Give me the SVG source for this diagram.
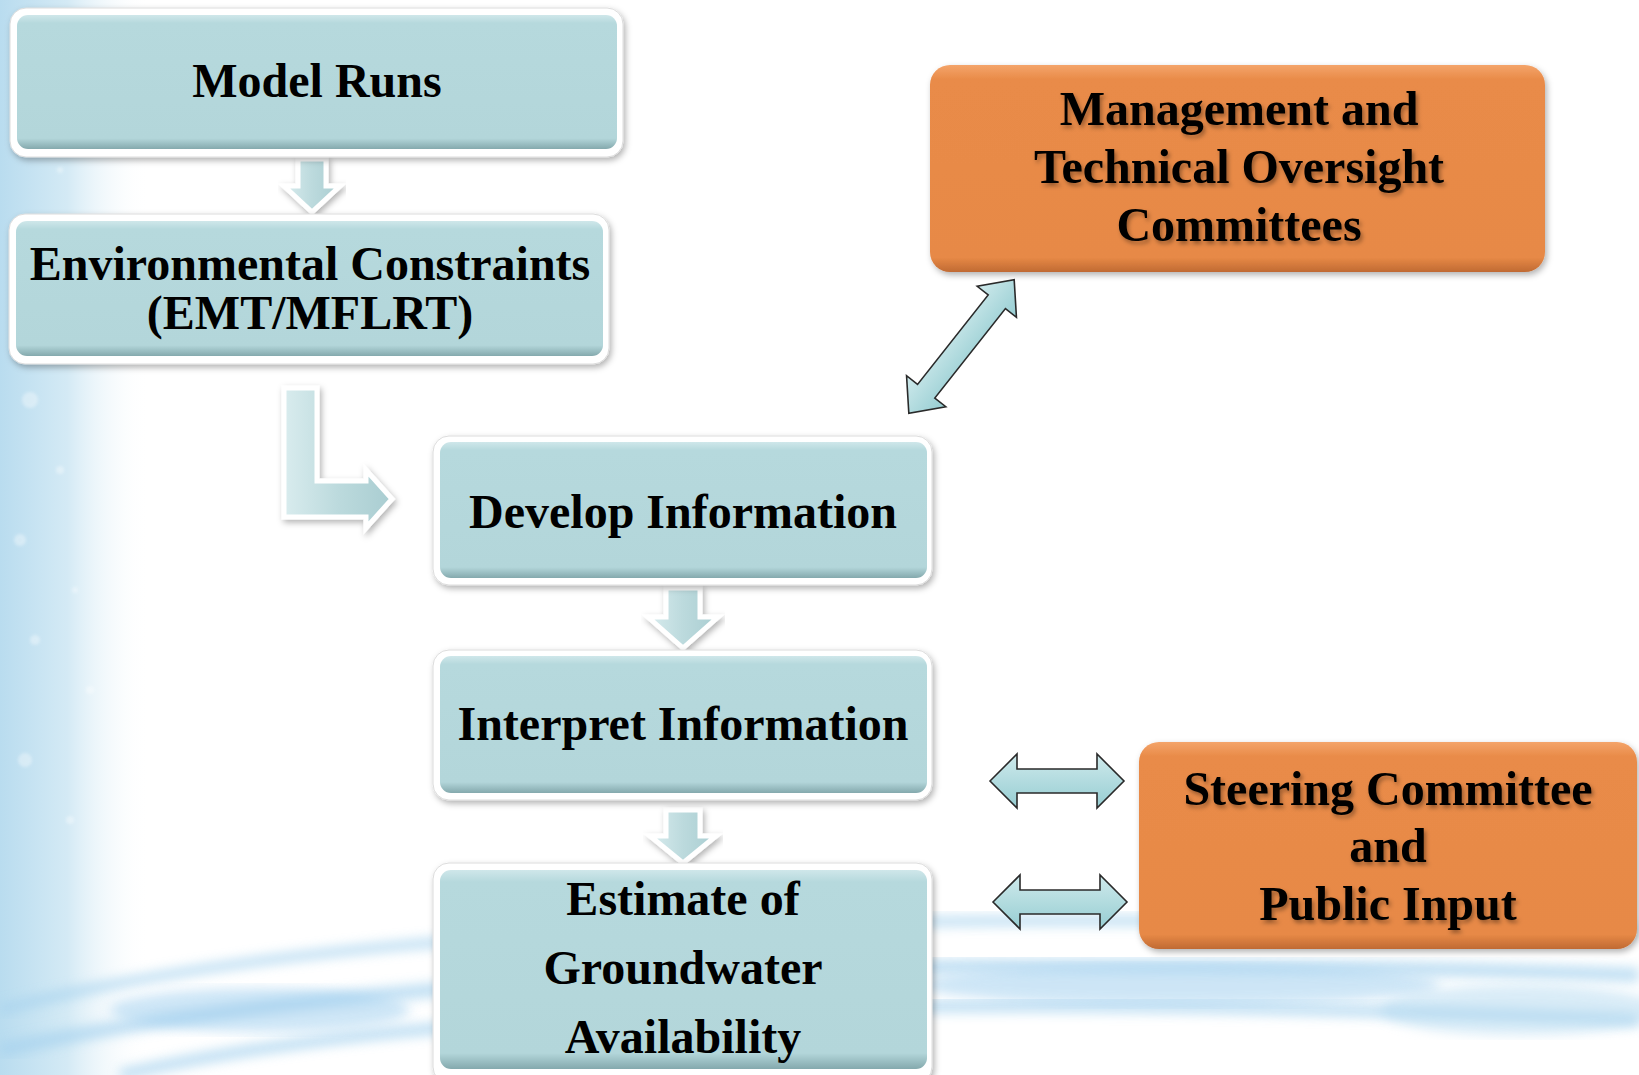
<svg xmlns="http://www.w3.org/2000/svg" width="1639" height="1075" viewBox="0 0 1639 1075">
<defs>
<linearGradient id="bgLeft" x1="0" y1="0" x2="1" y2="0">
<stop offset="0" stop-color="#b9dcef"/>
<stop offset="0.45" stop-color="#d4eaf5"/>
<stop offset="1" stop-color="#ffffff" stop-opacity="0"/>
</linearGradient>
<linearGradient id="teal" x1="0" y1="0" x2="0" y2="1">
<stop offset="0" stop-color="#cfe7ea"/>
<stop offset="0.06" stop-color="#b6d9dd"/>
<stop offset="0.92" stop-color="#b3d6da"/>
<stop offset="1" stop-color="#84a9ad"/>
</linearGradient>
<linearGradient id="orange" x1="0" y1="0" x2="0" y2="1">
<stop offset="0" stop-color="#f4a46a"/>
<stop offset="0.07" stop-color="#e98b48"/>
<stop offset="0.93" stop-color="#e78946"/>
<stop offset="1" stop-color="#c06a33"/>
</linearGradient>
<linearGradient id="arrowFill" x1="0" y1="0" x2="0" y2="1">
<stop offset="0" stop-color="#cfeaec"/>
<stop offset="1" stop-color="#96cdd2"/>
</linearGradient>
<linearGradient id="flowFill" x1="0" y1="0" x2="1" y2="0">
<stop offset="0" stop-color="#d9ecee"/>
<stop offset="0.5" stop-color="#bcdadd"/>
<stop offset="1" stop-color="#a9cdd1"/>
</linearGradient>
<filter id="shadow" x="-10%" y="-10%" width="120%" height="130%">
<feDropShadow dx="2" dy="3" stdDeviation="3" flood-color="#000" flood-opacity="0.3"/>
</filter>
<filter id="tshadow" x="-10%" y="-20%" width="120%" height="150%">
<feDropShadow dx="2" dy="3" stdDeviation="2" flood-color="#000" flood-opacity="0.35"/>
</filter>
<filter id="blur"><feGaussianBlur stdDeviation="6"/></filter>
<filter id="soft"><feGaussianBlur stdDeviation="1.5"/></filter>
<style>
.frame{fill:#ffffff;stroke:#dcdcdc;stroke-width:1}
.tealbox{fill:url(#teal)}
.orangebox{fill:url(#orange)}
.lbl{font-family:"Liberation Serif","Times New Roman",serif;font-weight:bold;font-size:48px;fill:#000;text-anchor:middle}
.olbl{filter:url(#tshadow)}
.dbl{fill:url(#arrowFill);stroke:#2a2a2a;stroke-width:1.6;stroke-linejoin:miter}
.flow{fill:url(#flowFill);stroke:#ffffff;stroke-width:5;stroke-linejoin:miter}
</style>
</defs>

<g id="background">
<rect x="0" y="0" width="1639" height="1075" fill="#ffffff"/>
<rect x="0" y="0" width="150" height="1075" fill="url(#bgLeft)"/>
<g fill="#ffffff" opacity="0.35" filter="url(#soft)">
<circle cx="30" cy="400" r="8"/><circle cx="60" cy="470" r="4"/><circle cx="20" cy="540" r="6"/>
<circle cx="75" cy="590" r="3"/><circle cx="35" cy="640" r="5"/><circle cx="90" cy="690" r="4"/>
<circle cx="25" cy="760" r="7"/><circle cx="70" cy="820" r="4"/><circle cx="40" cy="220" r="5"/>
<circle cx="85" cy="300" r="3"/><circle cx="20" cy="120" r="4"/><circle cx="60" cy="170" r="3"/>
</g>
<g fill="none" stroke="#a6d2ee" opacity="0.7">
<path d="M0,1010 C300,930 800,905 1639,930" stroke-width="10" filter="url(#blur)"/>
<path d="M0,1050 C350,975 900,950 1639,975" stroke-width="14" filter="url(#blur)"/>
<path d="M120,1075 C400,1010 900,990 1639,1020" stroke-width="12" filter="url(#blur)"/>
</g>
<ellipse cx="260" cy="1010" rx="150" ry="22" fill="#9dcdee" opacity="0.5" filter="url(#blur)"/>
<ellipse cx="1180" cy="985" rx="260" ry="20" fill="#9dcdee" opacity="0.5" filter="url(#blur)"/>
<ellipse cx="1520" cy="1010" rx="140" ry="25" fill="#b3d9f0" opacity="0.5" filter="url(#blur)"/>
</g>

<g id="connectors">
<path class="flow" filter="url(#shadow)" d="M298,159 L326,159 L326,186 L340,186 L312,212 L284,186 L298,186 Z"/>
<path class="flow" filter="url(#shadow)" d="M284,388 L317,388 L317,481 L366,481 L366,470 L392,499 L366,528 L366,517 L284,517 Z"/>
<path class="flow" filter="url(#shadow)" d="M666,588 L700,588 L700,617 L718,617 L683,648 L648,617 L666,617 Z"/>
<path class="flow" filter="url(#shadow)" d="M666,810 L700,810 L700,836 L716,836 L683,863 L650,836 L666,836 Z"/>
<path class="dbl" transform="translate(961.5,346.5) rotate(-51.7)" d="M-85,0 L-57,-25 L-57,-11 L57,-11 L57,-25 L85,0 L57,25 L57,11 L-57,11 L-57,25 Z"/>
<path class="dbl" transform="translate(1057,781)" d="M-67,0 L-40,-27 L-40,-12 L40,-12 L40,-27 L67,0 L40,27 L40,12 L-40,12 L-40,27 Z"/>
<path class="dbl" transform="translate(1060,902)" d="M-67,0 L-40,-27 L-40,-12 L40,-12 L40,-27 L67,0 L40,27 L40,12 L-40,12 L-40,27 Z"/>
</g>

<g id="model-runs">
<rect class="frame" x="10" y="8" width="613" height="149" rx="16" filter="url(#shadow)"/>
<rect class="tealbox" x="17" y="15" width="600" height="134" rx="11"/>
<text class="lbl" x="317" y="97">Model Runs</text>
</g>

<g id="environmental-constraints">
<rect class="frame" x="9" y="214" width="600" height="150" rx="16" filter="url(#shadow)"/>
<rect class="tealbox" x="16" y="221" width="587" height="135" rx="11"/>
<text class="lbl" x="310" y="280">Environmental Constraints</text>
<text class="lbl" x="310" y="329">(EMT/MFLRT)</text>
</g>

<g id="develop-information">
<rect class="frame" x="433" y="436" width="499" height="149" rx="16" filter="url(#shadow)"/>
<rect class="tealbox" x="440" y="442" width="487" height="136" rx="11"/>
<text class="lbl" x="683" y="528">Develop Information</text>
</g>

<g id="interpret-information">
<rect class="frame" x="433" y="650" width="499" height="150" rx="16" filter="url(#shadow)"/>
<rect class="tealbox" x="440" y="656" width="487" height="137" rx="11"/>
<text class="lbl" x="683" y="740">Interpret Information</text>
</g>

<g id="estimate-groundwater">
<rect class="frame" x="433" y="863" width="499" height="220" rx="16" filter="url(#shadow)"/>
<rect class="tealbox" x="440" y="870" width="487" height="199" rx="11"/>
<text class="lbl" x="683" y="915">Estimate of</text>
<text class="lbl" x="683" y="984">Groundwater</text>
<text class="lbl" x="683" y="1053">Availability</text>
</g>

<g id="management-committees">
<rect class="orangebox" x="930" y="65" width="615" height="207" rx="20" filter="url(#shadow)"/>
<g class="olbl">
<text class="lbl" x="1239" y="125">Management and</text>
<text class="lbl" x="1239" y="183">Technical Oversight</text>
<text class="lbl" x="1239" y="241">Committees</text>
</g>
</g>

<g id="steering-committee">
<rect class="orangebox" x="1139" y="742" width="498" height="207" rx="20" filter="url(#shadow)"/>
<g class="olbl">
<text class="lbl" x="1388" y="805">Steering Committee</text>
<text class="lbl" x="1388" y="862">and</text>
<text class="lbl" x="1388" y="920">Public Input</text>
</g>
</g>
</svg>
